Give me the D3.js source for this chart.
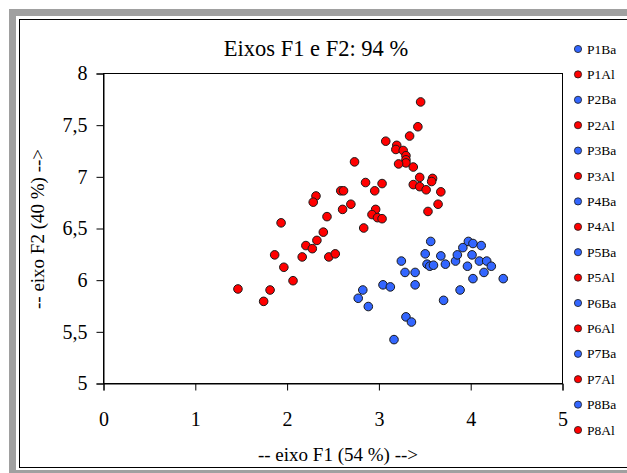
<!DOCTYPE html>
<html>
<head>
<meta charset="utf-8">
<script src="https://cdn.jsdelivr.net/npm/d3@7"></script>
<style>
  html, body { margin: 0; padding: 0; background: #fff; }
  svg { display: block; }
  text { font-family: "Liberation Serif", "Times New Roman", serif; fill: #000; }
</style>
</head>
<body>
<svg id="chart" width="627" height="473"></svg>
<script>
// Scores on the first two factorial axes
const seriesNames = ["P1Ba","P1Al","P2Ba","P2Al","P3Ba","P3Al","P4Ba","P4Al",
                     "P5Ba","P5Al","P6Ba","P6Al","P7Ba","P7Al","P8Ba","P8Al"];

// "Al" observations (F1, F2)
const alF1 = [3.46,3.43,3.34,3.08,3.20,3.19,3.27,3.30,3.30,3.30,3.22,3.38,2.74,3.45,3.59,3.58,3.38,
              3.45,3.52,3.68,3.65,3.54,2.86,3.04,2.96,2.59,2.62,2.70,2.61,2.97,2.93,2.99,3.04,2.44,
              2.32,2.29,2.84,2.40,2.33,2.21,2.28,1.94,1.87,2.17,2.46,2.53,1.97,2.07,1.47,1.82,1.75];
const alF2 = [7.72,7.48,7.39,7.34,7.30,7.26,7.25,7.20,7.16,7.13,7.12,7.09,7.14,6.99,6.98,6.95,6.92,
              6.90,6.87,6.85,6.73,6.66,6.94,6.93,6.86,6.86,6.86,6.73,6.68,6.68,6.63,6.60,6.59,6.61,
              6.81,6.75,6.50,6.46,6.38,6.33,6.30,6.55,6.24,6.22,6.22,6.25,6.12,5.99,5.91,5.90,5.79];

// "Ba" observations (F1, F2)
const baF1 = [3.57,3.51,3.68,3.25,3.53,3.56,3.60,3.73,3.84,3.86,3.29,3.40,3.40,3.05,3.13,2.83,2.78,
              2.89,3.71,3.30,3.36,3.17,3.92,3.98,4.03,4.12,4.02,4.10,4.18,4.23,4.15,3.97,4.03,3.89,4.36];
const baF2 = [6.37,6.25,6.23,6.18,6.15,6.13,6.14,6.15,6.18,6.24,6.07,6.07,5.95,5.95,5.93,5.90,5.82,
              5.74,5.80,5.64,5.59,5.42,6.31,6.37,6.35,6.33,6.24,6.18,6.18,6.13,6.07,6.13,6.01,5.90,6.01];

const xTicks = [0,1,2,3,4,5];
const yTicks = [5,5.5,6,6.5,7,7.5,8];

const colors = { Ba: "#3366ff", Al: "#ff0000" };

const svg = d3.select("#chart");
const W = 627, H = 473;

// frame: grey outer band, white inside, thin black border
svg.append("rect").attr("x", 9).attr("y", 9).attr("width", W + 20).attr("height", H + 20).attr("fill", "#a0a0a0");
svg.append("rect").attr("x", 16).attr("y", 16).attr("width", W + 20).attr("height", H - 19).attr("fill", "#fff");
svg.append("rect").attr("x", 19.5).attr("y", 19.5).attr("width", W + 20).attr("height", H - 25)
   .attr("fill", "none").attr("stroke", "#000").attr("stroke-width", 1);

const plot = { left: 103, right: 562, top: 73, bottom: 383 };
const x = d3.scaleLinear().domain([0, 5]).range([plot.left, plot.right]);
const y = d3.scaleLinear().domain([5, 8]).range([plot.bottom, plot.top]);

// plot box
svg.append("rect")
   .attr("x", plot.left + 0.5).attr("y", plot.top + 0.5)
   .attr("width", plot.right - plot.left).attr("height", plot.bottom - plot.top)
   .attr("fill", "#fff").attr("stroke", "#000").attr("stroke-width", 1);

const fmt = d => d3.format("")(d).replace(".", ",");

const xAxis = svg.append("g").attr("transform", `translate(0.5,${plot.bottom + 0.5})`)
  .call(d3.axisBottom(x).tickValues(xTicks).tickSize(7).tickPadding(21).tickFormat(fmt));
const yAxis = svg.append("g").attr("transform", `translate(${plot.left + 0.5},0.5)`)
  .call(d3.axisLeft(y).tickValues(yTicks).tickSize(7).tickPadding(9).tickFormat(fmt));
[xAxis, yAxis].forEach(g => {
  g.select(".domain").attr("stroke", "#000");
  g.selectAll(".tick line").attr("stroke", "#000");
  g.selectAll(".tick text").attr("font-size", 20).attr("font-family", "Liberation Serif, serif").attr("fill", "#000");
});

// points
const pts = [];
alF1.forEach((v, i) => pts.push({ f1: v, f2: alF2[i], kind: "Al" }));
baF1.forEach((v, i) => pts.push({ f1: v, f2: baF2[i], kind: "Ba" }));

svg.append("g").selectAll("circle").data(pts).join("circle")
  .attr("cx", d => x(d.f1)).attr("cy", d => y(d.f2)).attr("r", 4.3)
  .attr("fill", d => colors[d.kind]).attr("stroke", "#1a1a1a").attr("stroke-width", 1);

// titles
svg.append("text").attr("x", 316).attr("y", 56).attr("text-anchor", "middle")
   .attr("font-size", 22.5).text("Eixos F1 e F2: 94 %");
svg.append("text").attr("x", 338).attr("y", 461).attr("text-anchor", "middle")
   .attr("font-size", 19).text("-- eixo F1 (54 %) -->");
svg.append("text").attr("transform", `translate(44,229) rotate(-90)`)
   .attr("text-anchor", "middle").attr("font-size", 19).text("-- eixo F2 (40 %) -->");

// legend
const legend = svg.append("g").selectAll("g").data(seriesNames).join("g")
  .attr("transform", (d, i) => `translate(578,${49 + i * 25.4})`);
legend.append("circle").attr("r", 3.6)
  .attr("fill", d => colors[d.slice(-2)]).attr("stroke", "#1a1a1a").attr("stroke-width", 0.8);
legend.append("text").attr("x", 9).attr("y", 4.5).attr("font-size", 13.5).text(d => d);
</script>
</body>
</html>
